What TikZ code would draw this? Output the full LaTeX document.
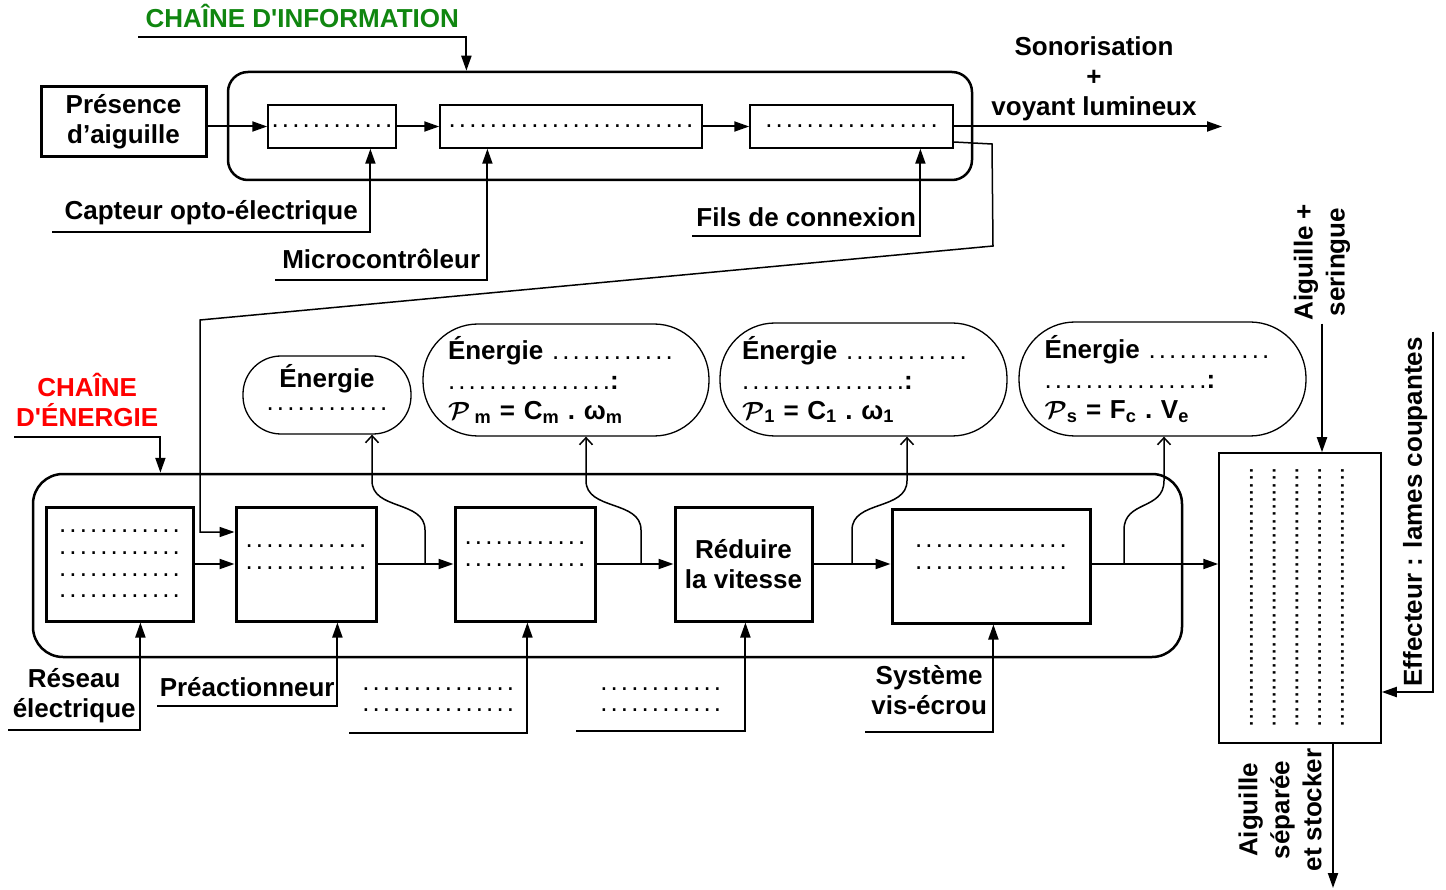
\documentclass[tikz,border=0pt]{standalone}
\usepackage{fontspec}
\setmainfont{Liberation Sans}
\usepackage{tikz}
\usetikzlibrary{positioning}
\usetikzlibrary{calc}
\usetikzlibrary{arrows.meta}

\definecolor{vertinfo}{RGB}{16,134,16}
\definecolor{rougeenergie}{RGB}{255,0,0}

\newcommand{\pts}[2][3.1pt]{{\mdseries.\foreach \k in {2,...,#2}{\hspace{#1}.}}}
\newcommand{\puiss}{{\boldmath$\mathcal{P}$}}

\tikzset{
  texte/.style={font=\fontsize{26}{30}\selectfont\bfseries},
  points/.style={font=\fontsize{26}{21.7}\selectfont\bfseries},
  boite/.style={draw, line width=3pt, inner sep=0pt, align=center},
  boiteinfo/.style={draw, line width=1.5pt, minimum height=43pt, inner sep=0pt},
  conteneur/.style={draw, line width=2.5pt},
  ovale/.style={draw, line width=1.3pt, inner sep=0pt},
  etiq/.style={inner xsep=0pt},
  fleche/.style={line width=2pt, -{Triangle[length=15pt,width=10pt]}},
  branche/.style={line width=1.5pt, -{Straight Barb[length=7pt,width=13pt]}},
}

\begin{document}
\begin{tikzpicture}[x=1pt,y=-1pt,texte]
\useasboundingbox (0,0) rectangle (1446,890);

\node[conteneur, rounded corners=20pt, minimum width=744, minimum height=108] (chaineinfo) at (600,126) {};
\node[boite, minimum width=165, minimum height=70] (presence) at (123.5,122) {Présence\\d’aiguille};
\node[boiteinfo, minimum width=128] (acq) at (332,126.5) {\pts{12}};
\node[boiteinfo, minimum width=262] (trait) at (571,126.5) {\pts{24}};
\node[boiteinfo, minimum width=203] (comm) at (851.5,126.5) {\pts{17}};
\node[align=center] (sono) at (1094,79) {Sonorisation\\+\\voyant lumineux};
\coordinate (sortie) at (1222,126.5);

\draw[fleche] (presence.east |- acq.west) -- (acq.west);
\draw[fleche] (acq) -- (trait);
\draw[fleche] (trait) -- (comm);
\draw[fleche] (comm.east) -- (sortie);

\node[etiq, text=vertinfo, minimum width=328, inner ysep=9.5pt, anchor=south west] (titreinfo) at (138,37) {CHAÎNE D\textquotesingle INFORMATION};
\node[etiq, minimum width=318, inner ysep=6.5pt, anchor=south west] (capteur) at (52,232) {Capteur opto-électrique};
\node[etiq, minimum width=212, inner ysep=11pt, anchor=south west] (micro) at (275,280) {Microcontrôleur};
\node[etiq, minimum width=228, inner ysep=8.6pt, anchor=south west] (fils) at (692,236) {Fils de connexion};

\draw[fleche] (titreinfo.south west) -- (titreinfo.south east) -- (titreinfo.south east |- chaineinfo.north);
\draw[fleche] (capteur.south west) -- (capteur.south east) -- (capteur.south east |- acq.south);
\draw[fleche] (micro.south west) -- (micro.south east) -- (micro.south east |- trait.south);
\draw[fleche] (fils.south west) -- (fils.south east) -- (fils.south east |- comm.south);

\node[conteneur, rounded corners=30pt, minimum width=1149, minimum height=183] (chaineenergie) at (607.5,565.5) {};
\node[etiq, text=rougeenergie, align=center, minimum width=146, inner ysep=9.7pt, anchor=south west] (titreenergie) at (14,437) {CHAÎNE\\D\textquotesingle ÉNERGIE};
\draw[fleche] (titreenergie.south west) -- (titreenergie.south east) -- (titreenergie.south east |- chaineenergie.north);

\node[boite, points, minimum width=147, minimum height=114] (e1) at (119.5,564) {\pts{12}\\\pts{12}\\\pts{12}\\\pts{12}};
\node[boite, points, minimum width=140, minimum height=114] (e2) at (306,564) {\pts{12}\\\pts{12}\\[-8.3pt]\mbox{}};
\node[boite, points, minimum width=140, minimum height=114] (e3) at (525,564) {\pts{12}\\\pts{12}\\[-1.3pt]\mbox{}};
\node[boite, minimum width=137, minimum height=114] (e4) at (743.5,564) {Réduire\\la vitesse};
\node[boite, points, minimum width=198, minimum height=114] (e5) at (991,566) {\pts{15}\\\pts{15}\\[-4.3pt]\mbox{}};
\node[boiteinfo, minimum width=162, minimum height=290] (effect) at (1300,598) {};
\node[rotate=90, align=center, font=\fontsize{26}{22.75}\selectfont] (ptseff) at (1297,597.5) {\pts[0pt]{36}\\\pts[0pt]{36}\\\pts[0pt]{36}\\\pts[0pt]{36}\\\pts[0pt]{36}};

\draw[fleche, line width=1.5pt] ([yshift=-15.5pt]comm.east) -- (992,144) -- (993,246) -- (200,320) -- (200,532) -- ([yshift=32pt]e2.west);

\draw[fleche] (e1) -- (e2);
\draw[fleche] (e2) -- (e3);
\draw[fleche] (e3) -- (e4);
\draw[fleche] (e4.east) -- (e4.east -| e5.west);
\draw[fleche] (e4.east -| e5.east) -- (e4.east -| effect.west);

\coordinate (d1) at (425,564);
\coordinate (d2) at (641,564);
\coordinate (d3) at (852,564);
\coordinate (d4) at (1124,564);

\node[ovale, rounded corners=38pt, minimum width=168, minimum height=78, align=center] (o1) at (327,395) {Énergie\\[-7pt]\pts{12}\\[-15.6pt]\mbox{}};
\node[ovale, rounded corners=55pt, minimum width=286, minimum height=112, text width=236, align=left] (o2) at (566,380) {Énergie \pts{12}\\\pts{16}:\\\puiss\,\textsubscript{m} = C\textsubscript{m}~.~ω\textsubscript{m}};
\node[ovale, rounded corners=55pt, minimum width=287, minimum height=113, text width=243, align=left] (o3) at (863.5,379.5) {Énergie \pts{12}\\\pts{16}:\\\puiss\textsubscript{1} = C\textsubscript{1}~.~ω\textsubscript{1}};
\node[ovale, rounded corners=56pt, minimum width=287, minimum height=114, text width=236, align=left] (o4) at (1162.5,379) {Énergie \pts{12}\\\pts{16}:\\\puiss\textsubscript{s} = F\textsubscript{c}~.~V\textsubscript{e}};

\draw[branche] (d1) -- ++(0,-34) .. controls +(0,-30) and +(0,30) .. ([xshift=45pt,yshift=-46pt]o1.south) -- ([xshift=45pt]o1.south);
\draw[branche] (d2) -- ++(0,-34) .. controls +(0,-30) and +(0,30) .. ([xshift=20pt,yshift=-44pt]o2.south) -- ([xshift=20pt]o2.south);
\draw[branche] (d3) -- ++(0,-34) .. controls +(0,-30) and +(0,30) .. ([xshift=43.5pt,yshift=-44pt]o3.south) -- ([xshift=43.5pt]o3.south);
\draw[branche] (d4) -- ++(0,-34) .. controls +(0,-30) and +(0,30) .. ([xshift=1.5pt,yshift=-44pt]o4.south) -- ([xshift=1.5pt]o4.south);

\node[etiq, align=center, minimum width=132, inner ysep=6.5pt, anchor=south west] (reseau) at (8,730) {Réseau\\électrique};
\node[etiq, minimum width=180, inner ysep=9pt, anchor=south west] (preact) at (157,706) {Préactionneur};
\node[etiq, points, align=center, minimum width=178, inner ysep=21pt, anchor=south west] (bas1) at (349,733) {\pts{15}\\\pts{15}};
\node[etiq, points, align=center, minimum width=169, inner ysep=19pt, anchor=south west] (bas2) at (576,731) {\pts{12}\\\pts{12}};
\node[etiq, align=center, minimum width=128, inner ysep=16.7pt, anchor=south west] (systeme) at (865,732) {Système\\vis-écrou};

\draw[fleche] (reseau.south west) -- (reseau.south east) -- (reseau.south east |- e1.south);
\draw[fleche] (preact.south west) -- (preact.south east) -- (preact.south east |- e2.south);
\draw[fleche] (bas1.south west) -- (bas1.south east) -- (bas1.south east |- e3.south);
\draw[fleche] (bas2.south west) -- (bas2.south east) -- (bas2.south east |- e4.south);
\draw[fleche] (systeme.south west) -- (systeme.south east) -- (systeme.south east |- e5.south);

\node[rotate=90, align=center, font=\fontsize{26}{32}\selectfont\bfseries] (aigseringue) at (1322,262) {Aiguille +\\seringue};
\node[etiq, rotate=90, minimum width=360, inner ysep=5.5pt, anchor=south west] (effecteur) at (1433,692) {Effecteur : lames coupantes};
\node[rotate=90, align=center, font=\fontsize{26}{32}\selectfont\bfseries] (aigsep) at (1280,810) {Aiguille\\séparée\\et stocker};
\coordinate (fin) at (1333,888);

\draw[fleche] (aigseringue.west) -- (aigseringue.west |- effect.north);
\draw[fleche] (effecteur.south east) -- (effecteur.south west) -- (effecteur.south west -| effect.east);
\draw[fleche] ([xshift=33pt]effect.south) -- (fin);
\end{tikzpicture}
\end{document}
